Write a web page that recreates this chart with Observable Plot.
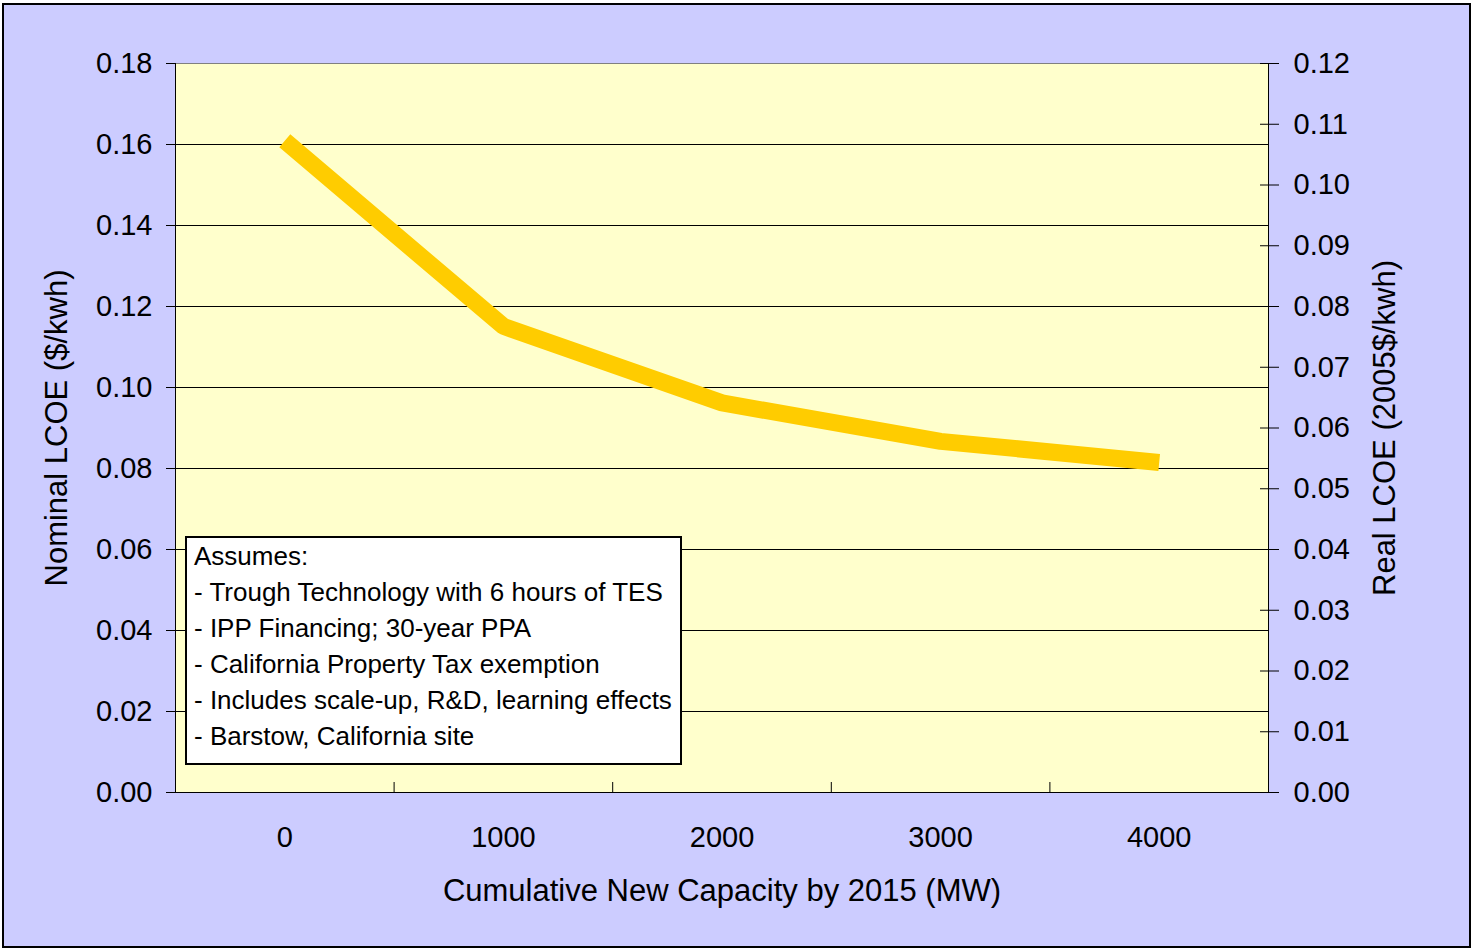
<!DOCTYPE html>
<html>
<head>
<meta charset="utf-8">
<script src="https://cdn.jsdelivr.net/npm/d3@7"></script>
<script src="https://cdn.jsdelivr.net/npm/@observablehq/plot@0.6"></script>
<style>
  html, body { margin: 0; padding: 0; background: #fff; }
  #frame {
    position: absolute; left: 2px; top: 3px;
    width: 1465px; height: 941px;
    border: 2px solid #000; background: #CCCCFF;
    font-family: "Liberation Sans", Arial, sans-serif;
  }
  #frame svg { position: absolute; left: 0; top: 0; }
  #note {
    position: absolute; left: 181px; top: 531px;
    width: 486px; height: 225px;
    border: 2px solid #000; background: #fff;
    font-size: 26px; line-height: 36px; color: #000;
    padding: 0 0 0 7px; box-sizing: content-box;
    white-space: nowrap;
  }
</style>
</head>
<body>
<div id="frame"></div>
<script>
// ---- data ----
const capacityMW = [0, 1000, 2000, 3000, 4000];
const nominalLCOE = [0.1609, 0.1151, 0.0962, 0.0867, 0.0815];
const leftTicks = [0, 0.02, 0.04, 0.06, 0.08, 0.10, 0.12, 0.14, 0.16, 0.18];
const rightTicks = [0, 0.01, 0.02, 0.03, 0.04, 0.05, 0.06, 0.07, 0.08, 0.09, 0.10, 0.11, 0.12];
const categoryBoundaries = [-500, 500, 1500, 2500, 3500, 4500];
const noteLines = [
  "Assumes:",
  "- Trough Technology with 6 hours of TES",
  "- IPP Financing; 30-year PPA",
  "- California Property Tax exemption",
  "- Includes scale-up, R&D, learning effects",
  "- Barstow, California site"
];
const xTitle = "Cumulative New Capacity by 2015 (MW)";
const yLeftTitle = "Nominal LCOE ($/kwh)";
const yRightTitle = "Real LCOE (2005$/kwh)";

const realToNominal = 0.18 / 0.12; // right axis 0..0.12 spans same height as left 0..0.18

const data = capacityMW.map((c, i) => ({capacity: c, lcoe: nominalLCOE[i]}));
const blank = () => "";

const W = 1465, H = 941;
const chart = Plot.plot({
  width: W, height: H,
  marginLeft: 171, marginRight: 201, marginTop: 58, marginBottom: 154,
  style: {background: "transparent", fontFamily: "'Liberation Sans', Arial, sans-serif", fontSize: "29px", color: "#000"},
  x: {domain: [-500, 4500]},
  y: {domain: [0, 0.18]},
  marks: [
    Plot.frame({fill: "#FFFFCC", stroke: "#808080"}),
    Plot.ruleY(leftTicks.filter(d => d > 0 && d < 0.18), {stroke: "#000", strokeWidth: 1}),
    Plot.ruleX([categoryBoundaries[0], categoryBoundaries[categoryBoundaries.length - 1]], {stroke: "#000"}),
    // left axis
    Plot.axisY({anchor: "left", ticks: leftTicks, tickFormat: d => d.toFixed(2), tickSize: 9, tickPadding: 14, label: null, fontSize: 29}),
    // right axis (real $), mapped onto the nominal scale
    Plot.axisY({anchor: "right", ticks: rightTicks.map(v => v * realToNominal), tickFormat: d => (d / realToNominal).toFixed(2), tickSize: 10, tickPadding: 15, label: null, fontSize: 29}),
    Plot.axisY({anchor: "right", ticks: rightTicks.map(v => v * realToNominal), tickFormat: blank, tickSize: -9, label: null}),
    // bottom axis: labels at categories, ticks at boundaries
    Plot.axisX({anchor: "bottom", ticks: capacityMW, tickFormat: d => String(d), tickSize: 0, tickPadding: 34, label: null, fontSize: 29}),
    Plot.axisX({anchor: "bottom", ticks: categoryBoundaries.slice(1, -1), tickFormat: blank, tickSize: -10, label: null}),
    Plot.ruleY([0], {stroke: "#000"}),
    Plot.line(data, {x: "capacity", y: "lcoe", stroke: "#FFCC00", strokeWidth: 17, strokeLinejoin: "miter", strokeLinecap: "butt"}),
    // axis titles
    Plot.text([xTitle], {frameAnchor: "bottom", dy: 99, text: d => d, fontSize: 31, fill: "#000", lineAnchor: "middle", textAnchor: "middle"}),
    Plot.text([yLeftTitle], {frameAnchor: "left", dx: -118, rotate: -90, text: d => d, fontSize: 31, fill: "#000", lineAnchor: "middle", textAnchor: "middle"}),
    Plot.text([yRightTitle], {frameAnchor: "right", dx: 117, rotate: -90, text: d => d, fontSize: 31, fill: "#000", lineAnchor: "middle", textAnchor: "middle"})
  ]
});
const frame = document.getElementById("frame");
frame.appendChild(chart);

const note = document.createElement("div");
note.id = "note";
note.innerHTML = noteLines.map(t => `<div>${t.replace(/&/g, "&amp;")}</div>`).join("");
frame.appendChild(note);
</script>
</body>
</html>
